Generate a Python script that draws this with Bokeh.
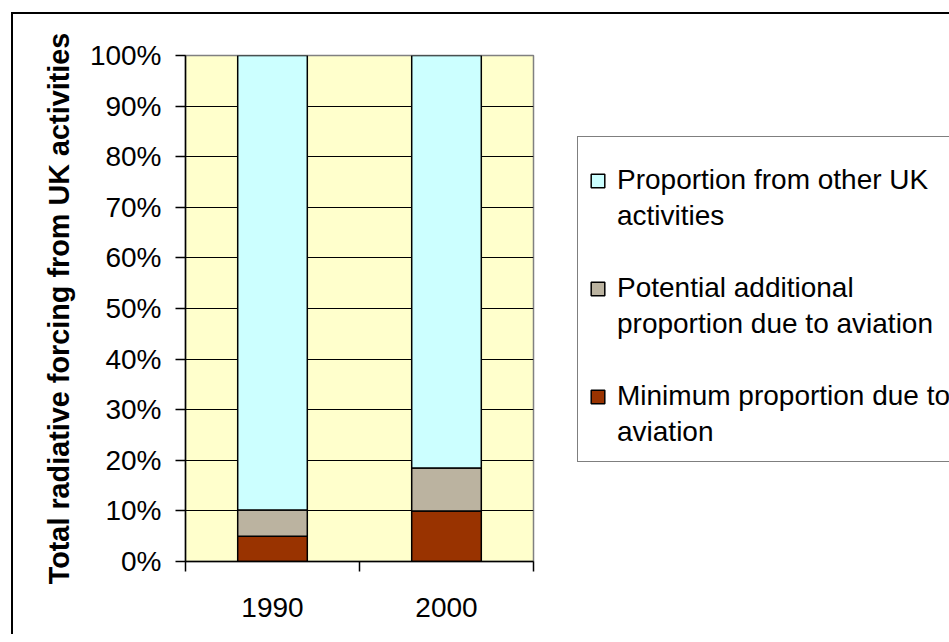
from bokeh.plotting import figure
from bokeh.models import (ColumnDataSource, FixedTicker, NumeralTickFormatter, Range1d,
                          Legend, LegendItem, InlineStyleSheet)
from bokeh.embed import file_html
from bokeh.resources import INLINE

# ---- data ----
years = ["1990", "2000"]
minimum = [0.05, 0.10]        # Minimum proportion due to aviation
potential = [0.052, 0.085]    # Potential additional proportion due to aviation
other = [0.898, 0.815]        # Proportion from other UK activities
y_ticks = [0.0, 0.1, 0.2, 0.3, 0.4, 0.5, 0.6, 0.7, 0.8, 0.9, 1.0]
# legend text, line by line (top series first)
legend_lines = [
    ["Proportion from other UK", "activities"],
    ["Potential additional", "proportion due to aviation"],
    ["Minimum proportion due to", "aviation"],
]
colors = ["#993300", "#BBB3A0", "#CCFFFF"]

FONT = "Liberation Sans"

src = ColumnDataSource(dict(
    x=[i + 0.5 for i in range(len(years))],
    minimum=minimum, potential=potential, other=other,
))

frame_css = InlineStyleSheet(css="""
:host::after {
  content: "";
  position: absolute;
  left: 11px; top: 12px; right: 0px; bottom: 0px;
  border: 0 none transparent;
  border-left: 2px solid black;
  border-top: 2px solid black;
  border-right: 0 none transparent;
  border-bottom: 0 none transparent;
  pointer-events: none;
}
""")

p = figure(frame_width=348, frame_height=506,
           min_border_left=185, min_border_right=408,
           min_border_top=55, min_border_bottom=73,
           x_range=Range1d(0, len(years)), y_range=Range1d(0, 1),
           output_backend="svg", toolbar_location=None, tools="",
           stylesheets=[frame_css])

p.background_fill_color = "#FFFFCC"
p.border_fill_color = "white"
p.outline_line_color = "#808080"
p.outline_line_width = 1.5

renderers = p.vbar_stack(["minimum", "potential", "other"], x="x", width=0.4,
                         color=colors, line_color="black", line_width=1.5, source=src)
# an empty, invisible renderer for the legend's continuation lines
blank = p.scatter(x=[], y=[], fill_alpha=0, line_alpha=0)

# y axis
p.yaxis.ticker = FixedTicker(ticks=y_ticks)
p.yaxis.formatter = NumeralTickFormatter(format="0%")
p.yaxis.axis_label = "Total radiative forcing from UK activities"
p.yaxis.axis_label_text_font = FONT
p.yaxis.axis_label_text_font_style = "bold"
p.yaxis.axis_label_text_font_size = "28.8px"
p.yaxis.axis_label_text_color = "black"
p.yaxis.axis_label_standoff = 12
p.yaxis.major_label_text_font = FONT
p.yaxis.major_label_text_font_size = "28px"
p.yaxis.major_label_text_color = "black"
p.yaxis.major_label_standoff = 14
p.yaxis.major_tick_out = 10
p.yaxis.major_tick_in = 0
p.yaxis.minor_tick_out = 0
p.yaxis.minor_tick_in = 0
p.yaxis.axis_line_color = "black"
p.yaxis.axis_line_width = 1.5
p.yaxis.major_tick_line_width = 1.5

# x axis: labels at category centres, ticks at category boundaries
p.xaxis.ticker = FixedTicker(ticks=[i + 0.5 for i in range(len(years))],
                             minor_ticks=[float(i) for i in range(len(years) + 1)])
p.xaxis.major_label_overrides = {i + 0.5: y for i, y in enumerate(years)}
p.xaxis.major_tick_out = 0
p.xaxis.major_tick_in = 0
p.xaxis.minor_tick_out = 10
p.xaxis.minor_tick_in = 0
p.xaxis.minor_tick_line_color = "black"
p.xaxis.minor_tick_line_width = 1.5
p.xaxis.major_label_standoff = 26
p.xaxis.major_label_text_font = FONT
p.xaxis.major_label_text_font_size = "28px"
p.xaxis.major_label_text_color = "black"
p.xaxis.axis_line_color = "black"
p.xaxis.axis_line_width = 1.5

p.xgrid.visible = False
p.ygrid.ticker = FixedTicker(ticks=y_ticks)
p.ygrid.grid_line_color = "black"
p.ygrid.grid_line_width = 1.2

# legend: one row per text line, blank row between series
items = []
for k, ridx in enumerate((2, 1, 0)):
    first, second = legend_lines[k]
    items.append(LegendItem(label=first, renderers=[renderers[ridx]]))
    items.append(LegendItem(label=second, renderers=[blank]))
    if k < 2:
        items.append(LegendItem(label=" ", renderers=[blank]))

legend = Legend(items=items, location=(44, 99))
legend.title = " "
legend.title_text_font_size = "8px"
legend.title_standoff = 5
legend.label_text_font = FONT
legend.label_text_font_size = "28px"
legend.label_text_color = "black"
legend.label_height = 36
legend.glyph_width = 17
legend.glyph_height = 17
legend.label_standoff = 11
legend.padding = 11
legend.spacing = 0
legend.margin = 0
legend.label_width = 320
legend.border_line_color = "black"
legend.border_line_width = 1.5
legend.background_fill_color = "white"
legend.background_fill_alpha = 1
p.add_layout(legend, "right")

open("out.html", "w").write(file_html(p, INLINE))
